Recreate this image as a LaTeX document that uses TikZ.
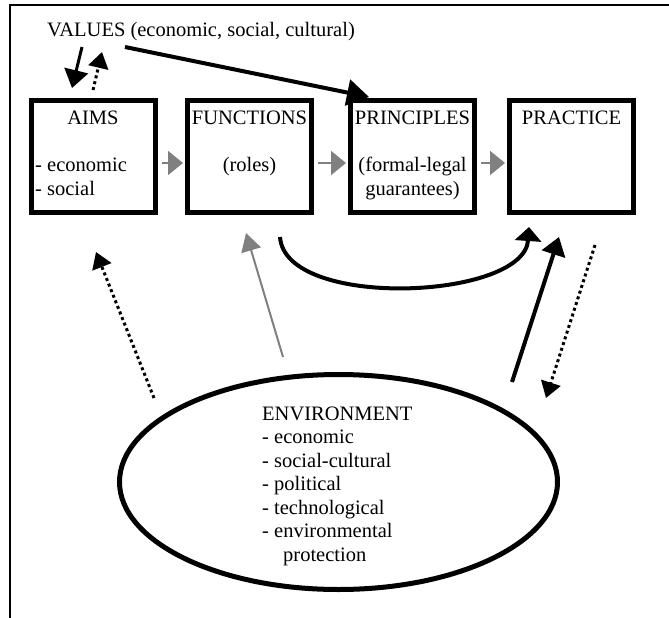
\documentclass[tikz,border=0pt]{standalone}
\usepackage{fontspec}
\setmainfont{Liberation Serif}
\usetikzlibrary{arrows.meta,shapes.geometric}
\definecolor{arrgray}{gray}{0.5}
\tikzset{
  box/.style={draw,line width=5pt,minimum width=124pt,minimum height=112pt,inner sep=0pt},
  envshape/.style={ellipse,draw,line width=5pt,minimum width=438pt,minimum height=215pt,inner sep=0pt},
  lbl/.style={inner sep=0pt,font=\fontsize{20.5}{23.5}\selectfont},
  grayarr/.style={draw=arrgray,line width=2pt,-{Triangle[length=15pt,width=24pt]}},
  solidarr/.style={line width=3.5pt,-{Triangle[length=18pt,width=24pt]}},
  dotarr/.style={line width=3pt,dash pattern=on 3pt off 3pt,-{Triangle[length=16pt,width=20pt]}}
}
\begin{document}
\begin{tikzpicture}[x=1pt,y=-1pt]
    \useasboundingbox (0,0) rectangle (669,618);
    \draw[line width=2pt] (10,618) -- (10,5) -- (669,5);

    \node[lbl,anchor=base west] (val) at (47,37) {VALUES (economic, social, cultural)};

    \node[box] (aims) at (93,156.5) {};
    \node[box] (func) at (249.5,156.5) {};
    \node[box] (princ) at (412.5,156.5) {};
    \node[box] (prac) at (571.5,156.5) {};

    \node[lbl,anchor=base] (aimst) at (93,124) {AIMS};
    \node[lbl,anchor=base] (funct) at (249.5,124) {FUNCTIONS};
    \node[lbl,anchor=base] (princt) at (412.5,124) {PRINCIPLES};
    \node[lbl,anchor=base] (pract) at (571.5,124) {PRACTICE};
    \node[lbl,anchor=base west,align=left] (aimsl) at (35,195) {- economic\\- social};
    \node[lbl,anchor=base] (funcl) at (249.5,171) {(roles)};
    \node[lbl,anchor=base,align=center] (princl) at (412.5,195) {(formal-legal\\guarantees)};

    \foreach \a/\b in {aims/func,func/princ,princ/prac}
    {\draw[grayarr] ([xshift=4pt,yshift=-6.5pt]\a.east) -- ([xshift=-2pt,yshift=-6.5pt]\b.west);}

    \node[envshape] (env) at (338.5,482) {};
    \node[lbl,anchor=base west,align=left] (envt) at (262,561)
        {ENVIRONMENT\\- economic\\- social-cultural\\- political\\- technological\\- environmental\\\hspace*{21pt}protection};

    \coordinate (v1) at (82,47);
    \coordinate (a1) at (72,88);
    \coordinate (a2) at (93,90);
    \coordinate (v2) at (102,52);
    \coordinate (v3) at (125,47);
    \coordinate (p1) at (369,97);
    \coordinate (f1) at (280,237);
    \coordinate (r1) at (529,227);
    \coordinate (e1) at (154,398);
    \coordinate (a3) at (96,252);
    \coordinate (e2) at (283,357);
    \coordinate (f2) at (246,233);
    \coordinate (e3) at (512,382);
    \coordinate (r2) at (559,237);
    \coordinate (r3) at (595,245);
    \coordinate (e4) at (546,398);

    \draw[solidarr,line width=3pt] (v1) -- (a1);
    \draw[dotarr] (a2) -- (v2);
    \draw[solidarr,line width=4pt,-{Triangle[length=22pt,width=26pt]}] (v3) -- (p1);
    \draw[solidarr,line width=4pt,-{Triangle[length=14pt,width=26pt]}] (f1) .. controls (285,310) and (524,300) .. (r1);
    \draw[dotarr] (e1) -- (a3);
    \draw[grayarr,-{Triangle[length=18pt,width=20pt]}] (e2) -- (f2);
    \draw[solidarr,line width=4pt] (e3) -- (r2);
    \draw[dotarr] (r3) -- (e4);
\end{tikzpicture}
\end{document}
